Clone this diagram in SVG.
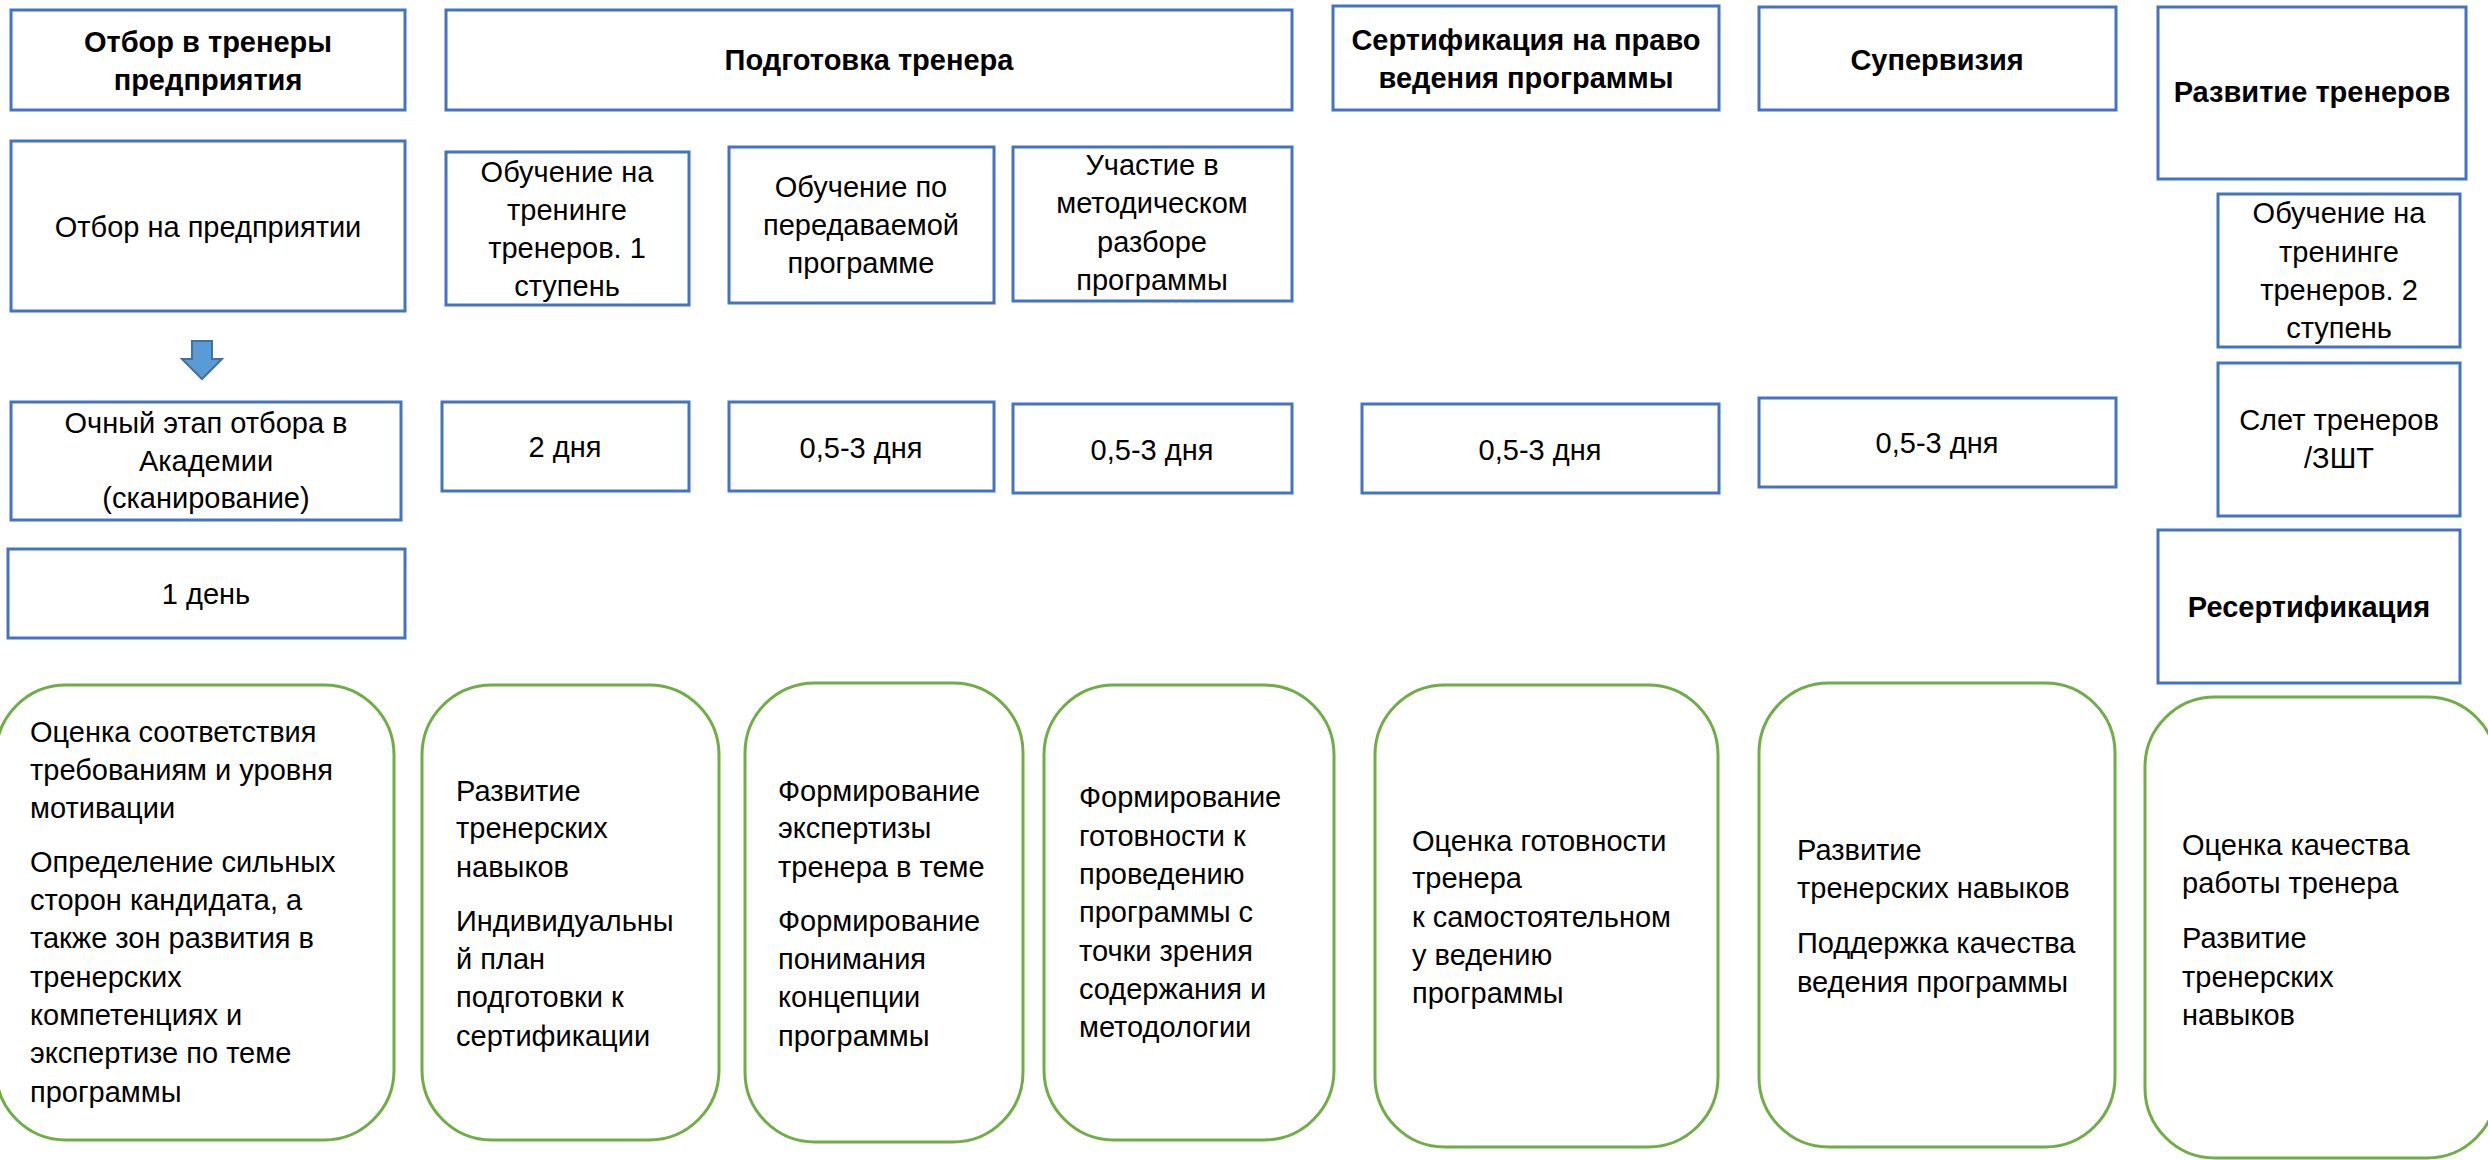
<svg xmlns="http://www.w3.org/2000/svg" width="2488" height="1160" viewBox="0 0 2488 1160">
<style>
.b{fill:#fff;stroke:#4472C4;stroke-width:3}
.g{fill:#fff;stroke:#70AD47;stroke-width:3}
text{font-family:"Liberation Sans",Arial,sans-serif;font-size:29px;fill:#000}
.c{text-anchor:middle}
.h{font-weight:bold;font-size:29px}
</style>
<rect width="2488" height="1160" fill="#fff"/>
<g id="hdr-otbor"><rect class="b" x="11" y="10" width="394" height="100"/><text class="c h" x="208"><tspan x="208" y="52">Отбор в тренеры</tspan><tspan x="208" y="90">предприятия</tspan></text></g>
<g id="hdr-podgotovka"><rect class="b" x="446" y="10" width="846" height="100"/><text class="c h" x="869" y="70">Подготовка тренера</text></g>
<g id="hdr-cert"><rect class="b" x="1333" y="6" width="386" height="104"/><text class="c h"><tspan x="1526" y="50">Сертификация на право</tspan><tspan x="1526" y="88">ведения программы</tspan></text></g>
<g id="hdr-super"><rect class="b" x="1759" y="7" width="357" height="103"/><text class="c h" x="1937" y="70">Супервизия</text></g>
<g id="hdr-razvitie"><rect class="b" x="2158" y="7" width="308" height="172"/><text class="c h" x="2312" y="102">Развитие тренеров</text></g>

<g id="otbor-pred"><rect class="b" x="11" y="141" width="394" height="170"/><text class="c" x="208" y="237">Отбор на предприятии</text></g>
<g id="obuch1"><rect class="b" x="446" y="152" width="243" height="153"/><text class="c"><tspan x="567" y="182">Обучение на</tspan><tspan x="567" y="220">тренинге</tspan><tspan x="567" y="258">тренеров. 1</tspan><tspan x="567" y="296">ступень</tspan></text></g>
<g id="obuch-prog"><rect class="b" x="729" y="147" width="265" height="156"/><text class="c"><tspan x="861" y="197">Обучение по</tspan><tspan x="861" y="235">передаваемой</tspan><tspan x="861" y="273">программе</tspan></text></g>
<g id="uchastie"><rect class="b" x="1013" y="147" width="279" height="154"/><text class="c"><tspan x="1152" y="175">Участие в</tspan><tspan x="1152" y="213">методическом</tspan><tspan x="1152" y="252">разборе</tspan><tspan x="1152" y="290">программы</tspan></text></g>
<g id="obuch2"><rect class="b" x="2218" y="194" width="242" height="153"/><text class="c"><tspan x="2339" y="223">Обучение на</tspan><tspan x="2339" y="262">тренинге</tspan><tspan x="2339" y="300">тренеров. 2</tspan><tspan x="2339" y="338">ступень</tspan></text></g>

<g id="ochny"><rect class="b" x="11" y="402" width="390" height="118"/><text class="c"><tspan x="206" y="433">Очный этап отбора в</tspan><tspan x="206" y="471">Академии</tspan><tspan x="206" y="508">(сканирование)</tspan></text></g>
<g id="dur-2"><rect class="b" x="442" y="402" width="247" height="89"/><text class="c" x="565" y="457">2 дня</text></g>
<g id="dur-3"><rect class="b" x="729" y="402" width="265" height="89"/><text class="c" x="861" y="458">0,5-3 дня</text></g>
<g id="dur-4"><rect class="b" x="1013" y="404" width="279" height="89"/><text class="c" x="1152" y="460">0,5-3 дня</text></g>
<g id="dur-5"><rect class="b" x="1362" y="404" width="357" height="89"/><text class="c" x="1540" y="460">0,5-3 дня</text></g>
<g id="dur-6"><rect class="b" x="1759" y="398" width="357" height="89"/><text class="c" x="1937" y="453">0,5-3 дня</text></g>
<g id="slet"><rect class="b" x="2218" y="363" width="242" height="153"/><text class="c"><tspan x="2339" y="430">Слет тренеров</tspan><tspan x="2339" y="468">/ЗШТ</tspan></text></g>
<g id="dur-1"><rect class="b" x="8" y="549" width="397" height="89"/><text class="c" x="206" y="604">1 день</text></g>
<g id="resert"><rect class="b" x="2158" y="530" width="302" height="153"/><text class="c h" x="2309" y="617">Ресертификация</text></g>

<g id="connectors"><path d="M192,341 H212 V359 H222 L202,379 L182,359 H192 Z" fill="#5B9BD5" stroke="#41719C" stroke-width="2"/></g>

<g id="g1"><rect class="g" x="-4" y="685" width="398" height="455" rx="70"/><text><tspan x="30" y="742">Оценка соответствия</tspan><tspan x="30" y="780">требованиям и уровня</tspan><tspan x="30" y="818">мотивации</tspan><tspan x="30" y="872">Определение сильных</tspan><tspan x="30" y="910">сторон кандидата, а</tspan><tspan x="30" y="948">также зон развития в</tspan><tspan x="30" y="987">тренерских</tspan><tspan x="30" y="1025">компетенциях и</tspan><tspan x="30" y="1063">экспертизе по теме</tspan><tspan x="30" y="1102">программы</tspan></text></g>
<g id="g2"><rect class="g" x="422" y="685" width="297" height="455" rx="70"/><text><tspan x="456" y="801">Развитие</tspan><tspan x="456" y="838">тренерских</tspan><tspan x="456" y="877">навыков</tspan><tspan x="456" y="931">Индивидуальны</tspan><tspan x="456" y="969">й план</tspan><tspan x="456" y="1007">подготовки к</tspan><tspan x="456" y="1046">сертификации</tspan></text></g>
<g id="g3"><rect class="g" x="745" y="683" width="278" height="459" rx="70"/><text><tspan x="778" y="801">Формирование</tspan><tspan x="778" y="838">экспертизы</tspan><tspan x="778" y="877">тренера в теме</tspan><tspan x="778" y="931">Формирование</tspan><tspan x="778" y="969">понимания</tspan><tspan x="778" y="1007">концепции</tspan><tspan x="778" y="1046">программы</tspan></text></g>
<g id="g4"><rect class="g" x="1044" y="685" width="290" height="455" rx="70"/><text><tspan x="1079" y="807">Формирование</tspan><tspan x="1079" y="846">готовности к</tspan><tspan x="1079" y="884">проведению</tspan><tspan x="1079" y="922">программы с</tspan><tspan x="1079" y="961">точки зрения</tspan><tspan x="1079" y="999">содержания и</tspan><tspan x="1079" y="1037">методологии</tspan></text></g>
<g id="g5"><rect class="g" x="1375" y="685" width="343" height="462" rx="70"/><text><tspan x="1412" y="851">Оценка готовности</tspan><tspan x="1412" y="888">тренера</tspan><tspan x="1412" y="927">к самостоятельном</tspan><tspan x="1412" y="965">у ведению</tspan><tspan x="1412" y="1003">программы</tspan></text></g>
<g id="g6"><rect class="g" x="1759" y="683" width="356" height="464" rx="70"/><text><tspan x="1797" y="860">Развитие</tspan><tspan x="1797" y="898">тренерских навыков</tspan><tspan x="1797" y="953">Поддержка качества</tspan><tspan x="1797" y="992">ведения программы</tspan></text></g>
<g id="g7"><rect class="g" x="2145" y="697" width="352" height="461" rx="70"/><text><tspan x="2182" y="855">Оценка качества</tspan><tspan x="2182" y="893">работы тренера</tspan><tspan x="2182" y="948">Развитие</tspan><tspan x="2182" y="987">тренерских</tspan><tspan x="2182" y="1025">навыков</tspan></text></g>
</svg>
